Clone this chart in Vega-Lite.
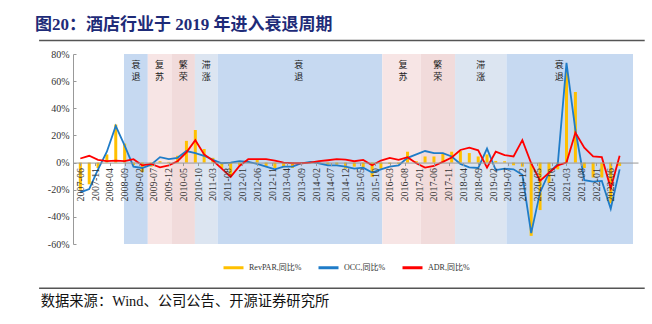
{
  "$schema": "https://vega.github.io/schema/vega-lite/v6.json",
  "width": 565,
  "height": 190,
  "autosize": "none",
  "padding": {"left": 73, "top": 54, "right": 14, "bottom": 80},
  "background": "white",
  "config": {
    "view": {"stroke": null},
    "font": "'Liberation Serif', 'Noto Sans CJK SC'"
  },
  "title": {
    "text": "图20：酒店行业于 2019 年进入衰退周期",
    "anchor": "start",
    "frame": "group",
    "dx": -38,
    "offset": 6,
    "fontSize": 17,
    "fontWeight": "bold",
    "color": "#1E2B78",
    "font": "'Liberation Serif', 'Noto Sans CJK SC'"
  },
  "resolve": {"axis": {"x": "independent", "y": "independent"}},
  "datasets": {
    "phases": [
      {"s": "2008-08-25", "e": "2009-04-28", "m": "2008-12-26", "p": "衰退", "t": "衰\n退"},
      {"s": "2009-04-28", "e": "2009-12-28", "m": "2009-08-28", "p": "复苏", "t": "复\n苏"},
      {"s": "2009-12-28", "e": "2010-08-28", "m": "2010-04-28", "p": "繁荣", "t": "繁\n荣"},
      {"s": "2010-08-28", "e": "2011-04-20", "m": "2010-12-24", "p": "滞涨", "t": "滞\n涨"},
      {"s": "2011-04-20", "e": "2015-12-15", "m": "2013-08-03", "p": "衰退", "t": "衰\n退"},
      {"s": "2015-12-15", "e": "2017-01-15", "m": "2016-07-16", "p": "复苏", "t": "复\n苏"},
      {"s": "2017-01-15", "e": "2018-01-05", "m": "2017-07-11", "p": "繁荣", "t": "繁\n荣"},
      {"s": "2018-01-05", "e": "2019-06-20", "m": "2018-09-27", "p": "滞涨", "t": "滞\n涨"},
      {"s": "2019-06-20", "e": "2023-01-17", "m": "2020-12-15", "p": "衰退", "t": "衰\n退"}
    ],
    "hotel": [
      {"d": "2007-06-01", "RevPAR": -20, "OCC": -22, "ADR": 3},
      {"d": "2007-09-01", "RevPAR": -16, "OCC": -19.5, "ADR": 5},
      {"d": "2007-12-01", "RevPAR": -4, "OCC": -5, "ADR": 2},
      {"d": "2008-03-01", "RevPAR": 6, "OCC": 8, "ADR": 1},
      {"d": "2008-06-01", "RevPAR": 28, "OCC": 27, "ADR": 1.5},
      {"d": "2008-09-01", "RevPAR": 14, "OCC": 12.5, "ADR": 1},
      {"d": "2008-12-01", "RevPAR": -2, "OCC": -3, "ADR": 2.5},
      {"d": "2009-03-01", "RevPAR": -7, "OCC": -4, "ADR": -2},
      {"d": "2009-06-01", "RevPAR": -3, "OCC": -1.5, "ADR": -1},
      {"d": "2009-09-01", "RevPAR": 1, "OCC": 4, "ADR": -3.5},
      {"d": "2009-12-01", "RevPAR": 0.5, "OCC": 2.5, "ADR": -2},
      {"d": "2010-03-01", "RevPAR": 5, "OCC": 3.5, "ADR": 1},
      {"d": "2010-06-01", "RevPAR": 16, "OCC": 8.5, "ADR": 7.5},
      {"d": "2010-09-01", "RevPAR": 24, "OCC": 7, "ADR": 16.5},
      {"d": "2010-12-01", "RevPAR": 10, "OCC": 5, "ADR": 6},
      {"d": "2011-03-01", "RevPAR": 3.5, "OCC": 2, "ADR": 1.5},
      {"d": "2011-06-01", "RevPAR": -4, "OCC": -0.5, "ADR": -4.5},
      {"d": "2011-09-01", "RevPAR": -10, "OCC": 0, "ADR": -10.5},
      {"d": "2011-12-01", "RevPAR": -2, "OCC": 1, "ADR": -2.5},
      {"d": "2012-03-01", "RevPAR": 1, "OCC": 0.5, "ADR": 2.5},
      {"d": "2012-06-01", "RevPAR": 2, "OCC": -1, "ADR": 2.5},
      {"d": "2012-09-01", "RevPAR": -2.5, "OCC": -3, "ADR": 2.5},
      {"d": "2012-12-01", "RevPAR": -4, "OCC": -5, "ADR": 1.5},
      {"d": "2013-03-01", "RevPAR": -3.5, "OCC": -3, "ADR": 0},
      {"d": "2013-06-01", "RevPAR": -4, "OCC": -3, "ADR": -0.5},
      {"d": "2013-09-01", "RevPAR": -0.5, "OCC": -0.5, "ADR": -0.5},
      {"d": "2013-12-01", "RevPAR": 1, "OCC": 0.5, "ADR": 0},
      {"d": "2014-03-01", "RevPAR": -0.5, "OCC": -0.5, "ADR": 1},
      {"d": "2014-06-01", "RevPAR": -1.5, "OCC": -2, "ADR": 1.7},
      {"d": "2014-09-01", "RevPAR": -1.5, "OCC": -2, "ADR": 2.5},
      {"d": "2014-12-01", "RevPAR": -4.5, "OCC": -3, "ADR": 2.2},
      {"d": "2015-03-01", "RevPAR": -3, "OCC": -4.4, "ADR": 1},
      {"d": "2015-06-01", "RevPAR": -3.5, "OCC": -3.7, "ADR": 2},
      {"d": "2015-09-01", "RevPAR": -10.5, "OCC": -7.4, "ADR": -2},
      {"d": "2015-12-01", "RevPAR": -4.5, "OCC": -5, "ADR": 1.5},
      {"d": "2016-03-01", "RevPAR": -1, "OCC": -3, "ADR": 3.5},
      {"d": "2016-06-01", "RevPAR": -1, "OCC": -2, "ADR": 2},
      {"d": "2016-09-01", "RevPAR": 8, "OCC": 3.5, "ADR": 4},
      {"d": "2016-12-01", "RevPAR": 1, "OCC": 6, "ADR": -0.5},
      {"d": "2017-03-01", "RevPAR": 4.5, "OCC": 8.5, "ADR": -3.7},
      {"d": "2017-06-01", "RevPAR": 4.5, "OCC": 7, "ADR": -2.5},
      {"d": "2017-09-01", "RevPAR": 7, "OCC": 7, "ADR": 0.5},
      {"d": "2017-12-01", "RevPAR": 8, "OCC": 4.5, "ADR": 3.7},
      {"d": "2018-03-01", "RevPAR": 8.5, "OCC": -1, "ADR": 9.3},
      {"d": "2018-06-01", "RevPAR": 7, "OCC": -3.5, "ADR": 11},
      {"d": "2018-09-01", "RevPAR": 4.5, "OCC": -4, "ADR": 9},
      {"d": "2018-12-01", "RevPAR": 6, "OCC": 10.3, "ADR": -3.7},
      {"d": "2019-03-01", "RevPAR": 1.2, "OCC": -5.5, "ADR": 8},
      {"d": "2019-06-01", "RevPAR": 1, "OCC": -4.5, "ADR": 5.5},
      {"d": "2019-09-01", "RevPAR": -2, "OCC": -5, "ADR": 4.5},
      {"d": "2019-12-01", "RevPAR": -3, "OCC": -9, "ADR": 16.5},
      {"d": "2020-03-01", "RevPAR": -54, "OCC": -52, "ADR": -0.5},
      {"d": "2020-06-01", "RevPAR": -35, "OCC": -22, "ADR": -13.5},
      {"d": "2020-09-01", "RevPAR": -15, "OCC": -7.5, "ADR": -7.5},
      {"d": "2020-12-01", "RevPAR": -5, "OCC": -1.2, "ADR": -2},
      {"d": "2021-03-01", "RevPAR": 68, "OCC": 73.5, "ADR": 0},
      {"d": "2021-06-01", "RevPAR": 52, "OCC": 24, "ADR": 22},
      {"d": "2021-09-01", "RevPAR": -4, "OCC": -13, "ADR": 11},
      {"d": "2021-12-01", "RevPAR": -11, "OCC": -14, "ADR": 4.5},
      {"d": "2022-03-01", "RevPAR": -11, "OCC": -13.5, "ADR": 4},
      {"d": "2022-06-01", "RevPAR": -30, "OCC": -34, "ADR": -19},
      {"d": "2022-09-01", "RevPAR": -2.5, "OCC": -5, "ADR": 5}
    ]
  },
  "data": {"name": "hotel"},
  "layer": [
    {
      "data": {"name": "phases"},
      "mark": {"type": "rect"},
      "encoding": {
        "x": {"field": "s", "type": "temporal", "axis": null},
        "x2": {"field": "e"},
        "fill": {
          "field": "p", "type": "nominal",
          "scale": {"domain": ["衰退", "复苏", "繁荣", "滞涨"], "range": ["#C6D9F1", "#F7E5E5", "#F1DBDB", "#DCE5F1"]},
          "legend": null
        }
      }
    },
    {
      "data": {"name": "phases"},
      "mark": {"type": "text", "baseline": "top", "lineBreak": "\n", "fontSize": 9, "lineHeight": 12, "color": "#222", "font": "Noto Sans CJK SC"},
      "encoding": {
        "x": {"field": "m", "type": "temporal", "axis": null},
        "y": {"datum": 75, "axis": null},
        "text": {"field": "t"}
      }
    },
    {
      "mark": {"type": "bar", "size": 3},
      "encoding": {
        "x": {
          "field": "d", "type": "temporal",
          "scale": {"domain": [{"year": 2007, "month": 5, "date": 8}, {"year": 2023, "month": 1, "date": 17}]},
          "axis": {
            "orient": "bottom",
            "zindex": 1,
            "title": null,
            "offset": -81.43,
            "format": "%Y-%m",
            "labelAngle": -90,
            "labelOverlap": false,
            "labelFlush": false,
            "labelBound": false,
            "labelFont": "Liberation Serif",
            "labelFontSize": 10,
            "labelColor": "#333",
            "labelPadding": 2,
            "domainColor": "#999",
            "tickColor": "#999",
            "tickSize": 3,
            "grid": false,
            "values": [
              {"year": 2007, "month": 6, "date": 1}, {"year": 2007, "month": 11, "date": 1},
              {"year": 2008, "month": 4, "date": 1}, {"year": 2008, "month": 9, "date": 1},
              {"year": 2009, "month": 2, "date": 1}, {"year": 2009, "month": 7, "date": 1},
              {"year": 2009, "month": 12, "date": 1}, {"year": 2010, "month": 5, "date": 1},
              {"year": 2010, "month": 10, "date": 1}, {"year": 2011, "month": 3, "date": 1},
              {"year": 2011, "month": 8, "date": 1}, {"year": 2012, "month": 1, "date": 1},
              {"year": 2012, "month": 6, "date": 1}, {"year": 2012, "month": 11, "date": 1},
              {"year": 2013, "month": 4, "date": 1}, {"year": 2013, "month": 9, "date": 1},
              {"year": 2014, "month": 2, "date": 1}, {"year": 2014, "month": 7, "date": 1},
              {"year": 2014, "month": 12, "date": 1}, {"year": 2015, "month": 5, "date": 1},
              {"year": 2015, "month": 10, "date": 1}, {"year": 2016, "month": 3, "date": 1},
              {"year": 2016, "month": 8, "date": 1}, {"year": 2017, "month": 1, "date": 1},
              {"year": 2017, "month": 6, "date": 1}, {"year": 2017, "month": 11, "date": 1},
              {"year": 2018, "month": 4, "date": 1}, {"year": 2018, "month": 9, "date": 1},
              {"year": 2019, "month": 2, "date": 1}, {"year": 2019, "month": 7, "date": 1},
              {"year": 2019, "month": 12, "date": 1}, {"year": 2020, "month": 5, "date": 1},
              {"year": 2020, "month": 10, "date": 1}, {"year": 2021, "month": 3, "date": 1},
              {"year": 2021, "month": 8, "date": 1}, {"year": 2022, "month": 1, "date": 1},
              {"year": 2022, "month": 6, "date": 1}
            ]
          }
        },
        "y": {
          "field": "RevPAR", "type": "quantitative",
          "scale": {"domain": [-60, 80], "nice": false, "zero": false},
          "axis": {
            "orient": "left",
            "zindex": 1,
            "title": null,
            "values": [-60, -40, -20, 0, 20, 40, 60, 80],
            "labelExpr": "datum.value + '%'",
            "labelOverlap": false,
            "labelFlush": false,
            "labelBound": false,
            "labelFont": "Liberation Serif",
            "labelFontSize": 10,
            "labelColor": "#333",
            "labelPadding": 7,
            "domainColor": "#999",
            "tickColor": "#999",
            "tickSize": -3,
            "grid": false
          }
        },
        "color": {
          "datum": "RevPAR",
          "scale": {"domain": ["RevPAR", "OCC", "ADR"], "range": ["#FFC000", "#1F7CC8", "#FF0000"]},
          "legend": {
            "title": null,
            "orient": "none",
            "direction": "horizontal",
            "legendX": 149,
            "legendY": 202,
            "symbolType": "stroke",
            "symbolSize": 400,
            "symbolStrokeWidth": 3,
            "labelExpr": "datum.label + ',同比%'",
            "labelFont": "'Liberation Serif', 'Noto Sans CJK SC'",
            "labelFontSize": 8,
            "labelColor": "#333",
            "columnPadding": 10
          }
        }
      }
    },
    {
      "transform": [{"fold": ["OCC", "ADR"], "as": ["k", "v"]}],
      "mark": {"type": "line", "strokeWidth": 1.8},
      "encoding": {
        "x": {"field": "d", "type": "temporal", "axis": null},
        "y": {"field": "v", "type": "quantitative", "axis": null},
        "color": {"field": "k", "type": "nominal", "legend": {"title": null}},
        "detail": {"field": "k"}
      }
    },
    {
      "data": {"values": [{}]},
      "mark": {"type": "rule", "color": "#555", "strokeWidth": 1.5},
      "encoding": {
        "x": {"datum": {"year": 2006, "month": 4, "date": 1}, "axis": null},
        "x2": {"datum": {"year": 2023, "month": 5, "date": 18}},
        "y": {"datum": 90, "axis": null}
      }
    },
    {
      "data": {"values": [{}]},
      "mark": {"type": "rule", "color": "#555", "strokeWidth": 1.5},
      "encoding": {
        "x": {"datum": {"year": 2006, "month": 4, "date": 1}, "axis": null},
        "x2": {"datum": {"year": 2023, "month": 5, "date": 18}},
        "y": {"datum": -92.6, "axis": null}
      }
    },
    {
      "data": {"values": [{}]},
      "mark": {"type": "text", "align": "left", "baseline": "middle", "fontSize": 14.3, "color": "#111", "font": "'Liberation Serif', 'Noto Sans CJK SC'"},
      "encoding": {
        "x": {"datum": {"year": 2006, "month": 4, "date": 18}, "axis": null},
        "y": {"datum": -103, "axis": null},
        "text": {"value": "数据来源：Wind、公司公告、开源证券研究所"}
      }
    }
  ]
}
